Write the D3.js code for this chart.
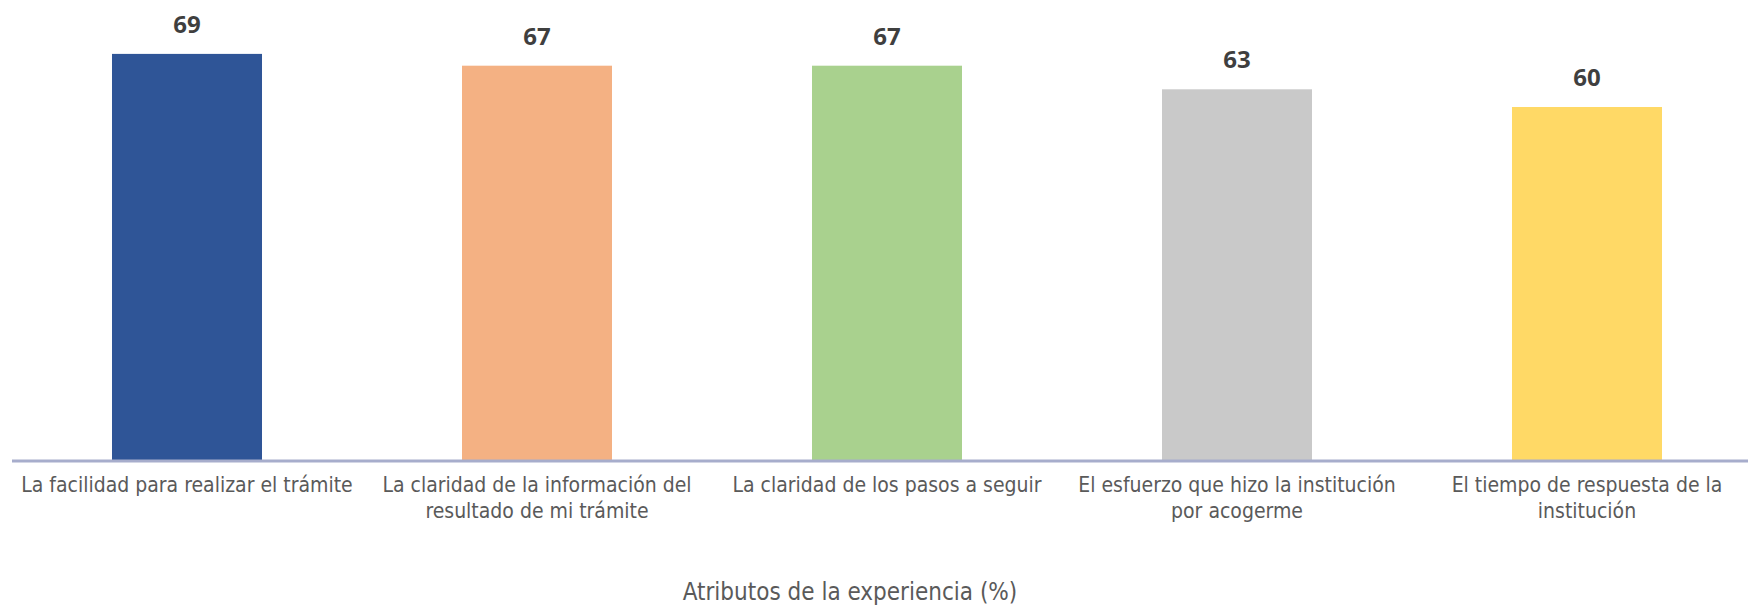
<!DOCTYPE html>
<html>
<head>
<meta charset="utf-8">
<script src="https://cdn.jsdelivr.net/npm/d3@7"></script>
<style>
  body { margin: 0; background: #fff; }
  svg { display: block; }
  .tick-label { font-family: "Liberation Sans Narrow", "DejaVu Sans Condensed", sans-serif; fill: #5a5a5a; }
  .value-label { font-family: "Open Sans", "DejaVu Sans", sans-serif; font-weight: bold; fill: #3f3f3f; }
</style>
</head>
<body>
<div id="chart"></div>
<script>
// data
const categories = [
  "La facilidad para realizar el trámite",
  "La claridad de la información del resultado de mi trámite",
  "La claridad de los pasos a seguir",
  "El esfuerzo que hizo la institución por acogerme",
  "El tiempo de respuesta de la institución"
];
const tickLines = [
  ["La facilidad para realizar el trámite"],
  ["La claridad de la información del", "resultado de mi trámite"],
  ["La claridad de los pasos a seguir"],
  ["El esfuerzo que hizo la institución", "por acogerme"],
  ["El tiempo de respuesta de la", "institución"]
];
const values = [69, 67, 67, 63, 60];
const colors = ["#2f5597", "#f4b183", "#a9d18e", "#c9c9c9", "#ffd966"];
const axisTitle = "Atributos de la experiencia (%)";

const width = 1748, height = 606;
const baseY = 461;

const svg = d3.select("#chart").append("svg")
  .attr("width", width)
  .attr("height", height);

const x = d3.scaleBand()
  .domain(categories)
  .range([12, 1762])
  .paddingInner(0.5714)
  .paddingOuter(0.2857);

const y = d3.scaleLinear()
  .domain([0, 78])
  .range([baseY, baseY - 78 * 5.9]);

const data = categories.map((c, i) => ({ cat: c, value: values[i], color: colors[i], lines: tickLines[i] }));

svg.selectAll(".bar")
  .data(data)
  .join("rect")
  .attr("class", "bar")
  .attr("x", d => x(d.cat))
  .attr("y", d => y(d.value))
  .attr("width", x.bandwidth())
  .attr("height", d => y(0) - y(d.value))
  .attr("fill", d => d.color);

// baseline
svg.append("line")
  .attr("x1", x.range()[0])
  .attr("x2", x.range()[1])
  .attr("y1", y(0))
  .attr("y2", y(0))
  .attr("stroke", "#a7adcc")
  .attr("stroke-width", 3);

svg.selectAll(".value-label")
  .data(data)
  .join("text")
  .attr("class", "value-label")
  .attr("x", d => x(d.cat) + x.bandwidth() / 2)
  .attr("y", d => y(d.value) - 21)
  .attr("text-anchor", "middle")
  .style("font-size", "24px")
  .text(d => d.value);

const ticks = svg.selectAll(".tick-label")
  .data(data)
  .join("text")
  .attr("class", "tick-label")
  .attr("text-anchor", "middle")
  .style("font-size", "21px")
  .attr("transform", d => `translate(${x(d.cat) + x.bandwidth() / 2}, 492)`);

ticks.selectAll("tspan")
  .data(d => d.lines)
  .join("tspan")
  .attr("x", 0)
  .attr("y", (d, i) => i * 26)
  .text(d => d);

svg.append("text")
  .attr("class", "tick-label")
  .attr("x", 850)
  .attr("y", 600)
  .attr("text-anchor", "middle")
  .style("font-size", "24px")
  .text(axisTitle);
</script>
</body>
</html>
